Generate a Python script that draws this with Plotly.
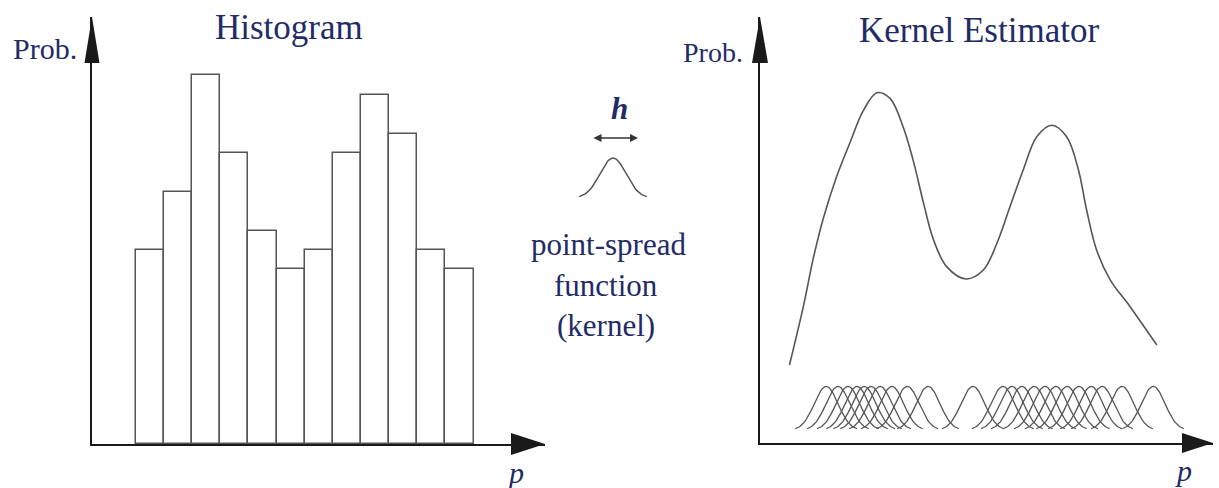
import numpy as np
import plotly.graph_objects as go

W, H = 1219, 488

# ---- data -------------------------------------------------------------
# histogram: counts per bin (12 equal-width bins)
hist_bins = list(range(12))
hist_counts = [10, 13, 19, 15, 11, 9, 10, 15, 18, 16, 10, 9]

# smooth kernel density estimate (p, prob.)
kde_p = [0.65, 0.96, 1.18, 1.40, 1.69, 1.99, 2.28, 2.58, 2.87, 3.16, 3.38, 3.61,
         3.83, 4.12, 4.55, 4.93, 5.23, 5.52, 5.81, 6.11, 6.44, 6.77, 7.03, 7.21,
         7.43, 7.73, 8.17, 8.76]
kde_prob = [1.83, 3.22, 4.35, 5.28, 6.25, 7.06, 7.80, 8.22, 8.09, 7.42, 6.64, 5.63,
            4.77, 4.14, 3.85, 4.06, 4.69, 5.55, 6.41, 7.19, 7.46, 7.19, 6.41, 5.47,
            4.53, 3.83, 3.20, 2.30]

# sample positions, one kernel placed on each
kernel_centers = [1.46, 1.72, 1.94, 2.14, 2.30, 2.45, 2.65, 2.91, 3.25, 3.71,
                  4.70, 5.36, 5.56, 5.78, 6.05, 6.29, 6.53, 6.78, 7.04, 7.31,
                  7.55, 7.99, 8.68]

# ---- styling constants ------------------------------------------------
TEXT = "#232b66"
INK = "#1a1a1a"
LINE = "#555555"
SERIF = "Liberation Serif"

SIGMA = 0.262      # kernel width in p units
K_BASE = 0.30      # kernel baseline above the axis
K_AMP = 1.03       # kernel height


def gauss(u):
    return np.exp(-0.5 * u ** 2)


def px(x):
    return x / W


def py(y):
    return 1 - y / H


fig = go.Figure()

# histogram bars
fig.add_trace(go.Bar(
    x=[b + 0.5 for b in hist_bins], y=hist_counts, width=1.0,
    marker=dict(color="white", line=dict(color=LINE, width=1.5)),
    xaxis="x", yaxis="y", hoverinfo="skip", showlegend=False,
))

# density estimate
fig.add_trace(go.Scatter(
    x=kde_p, y=kde_prob, mode="lines",
    line=dict(color=LINE, width=1.6, shape="spline", smoothing=1.0),
    xaxis="x2", yaxis="y2", hoverinfo="skip", showlegend=False,
))

# individual kernels along the bottom
u = np.linspace(-2.6, 2.6, 61)
for c in kernel_centers:
    fig.add_trace(go.Scatter(
        x=c + SIGMA * u, y=K_BASE + K_AMP * gauss(u), mode="lines",
        line=dict(color=LINE, width=1.3),
        xaxis="x2", yaxis="y2", hoverinfo="skip", showlegend=False,
    ))

# the point-spread function on its own
u3 = np.linspace(-2.6, 2.6, 61)
fig.add_trace(go.Scatter(
    x=u3, y=gauss(u3), mode="lines",
    line=dict(color=LINE, width=1.5),
    xaxis="x3", yaxis="y3", hoverinfo="skip", showlegend=False,
))

hidden = dict(showgrid=False, zeroline=False, showticklabels=False, ticks="")
axis_line = dict(showline=True, linecolor=INK, linewidth=1.5, mirror=False)

fig.update_layout(
    width=W, height=H,
    margin=dict(l=0, r=0, t=0, b=0),
    paper_bgcolor="white", plot_bgcolor="white",
    showlegend=False, bargap=0,
    xaxis=dict(domain=[px(92), px(545)], range=[-1.552, 14.535], anchor="y",
               **hidden, **axis_line),
    yaxis=dict(domain=[py(444), py(17)], range=[0, 22.01], anchor="x",
               **hidden, **axis_line),
    xaxis2=dict(domain=[px(760), px(1213)], range=[0, 10], anchor="y2",
                **hidden, **axis_line),
    yaxis2=dict(domain=[py(443), py(17)], range=[0, 10], anchor="x2",
                **hidden, **axis_line),
    xaxis3=dict(domain=[px(574), px(652)], range=[-3, 3], anchor="y3",
                visible=False),
    yaxis3=dict(domain=[py(200), py(156)], range=[-0.05, 1.05], anchor="x3",
                visible=False),
)


def tri(pts):
    d = "M " + " L ".join(f"{px(x):.5f},{py(y):.5f}" for x, y in pts) + " Z"
    return dict(type="path", path=d, xref="paper", yref="paper",
                fillcolor=INK, line=dict(width=0), layer="above")


fig.update_layout(shapes=[
    tri([(92, 17), (84.5, 63), (99.5, 63)]),
    tri([(545, 444), (511, 433), (511, 455)]),
    tri([(760, 17), (752, 63), (768, 63)]),
    tri([(1213, 443), (1182, 433), (1182, 453)]),
])


def label(text, x, y, size, xanchor="center"):
    return dict(text=text, x=px(x), y=py(y), xref="paper", yref="paper",
                xanchor=xanchor, yanchor="middle", showarrow=False,
                font=dict(family=SERIF, size=size, color=TEXT))


annotations = [
    label("Histogram", 289, 28, 35),
    label("Kernel Estimator", 979, 30, 35),
    label("Prob.", 79, 49, 30, xanchor="right"),
    label("Prob.", 745, 52, 28, xanchor="right"),
    label("<i>p</i>", 515, 472, 30),
    label("<i>p</i>", 1183, 470, 30),
    label("<b><i>h</i></b>", 619, 108, 31),
    label("point-spread", 608, 244, 31),
    label("function", 606, 285, 31),
    label("(kernel)", 606, 325, 31),
    dict(text="", x=px(638), y=py(138), xref="paper", yref="paper",
         ax=-46, ay=0, showarrow=True, arrowside="end+start",
         arrowhead=2, arrowsize=1, arrowwidth=1.6, arrowcolor="#333333",
         standoff=0, startstandoff=0),
]
fig.update_layout(annotations=annotations)

fig.write_html("out.html")
